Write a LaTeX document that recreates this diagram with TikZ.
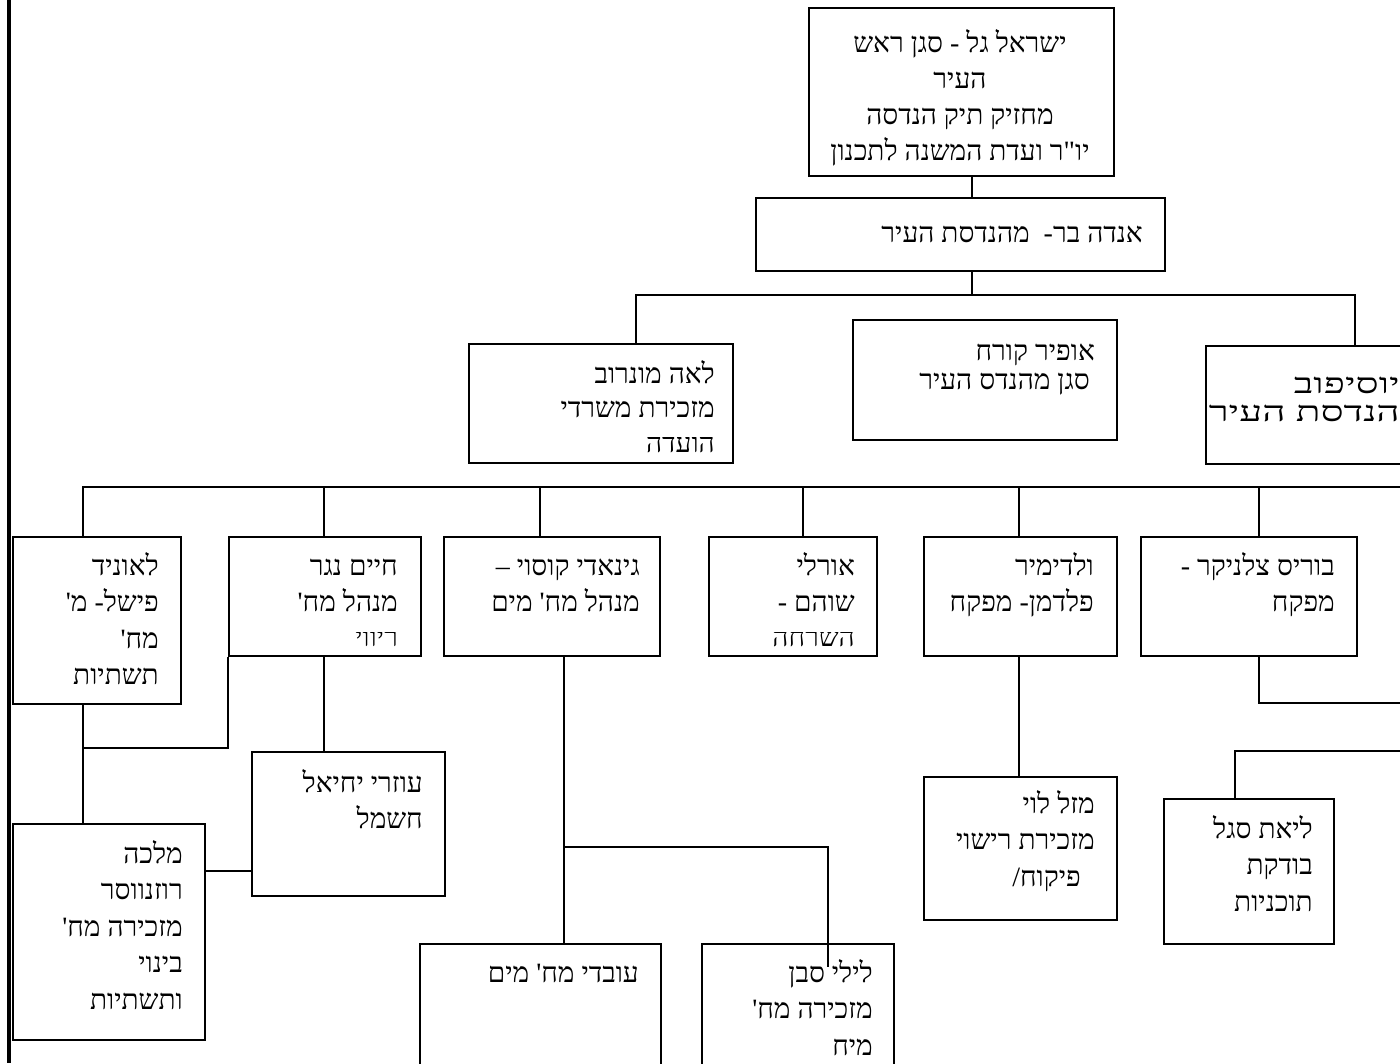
\documentclass[tikz,border=0pt]{standalone}
\usepackage{fontspec}
\newfontfamily\heb[Script=Hebrew,Ligatures=TeXOff]{Liberation Serif}
\TeXXeTstate=1
\newcommand\hl[1]{\beginR #1\endR}
\begin{document}
\begin{tikzpicture}[x=1pt,y=-1pt,
  box/.style={draw, line width=1.7pt, rectangle, anchor=north west, inner sep=0pt},
  txt/.style={font=\heb\fontsize{28}{36.5}\selectfont, inner sep=0pt, align=right, anchor=base east},
  link/.style={line width=1.7pt}]
\useasboundingbox (0,0) rectangle (1400,1063);
\clip (0,0) rectangle (1400,1063);
% left border
\draw[line width=4pt] (9,0) -- (9,1063);
% boxes
\node[box, minimum width=305pt, minimum height=168pt] (top) at (808,7) {};
\node[box, minimum width=409pt, minimum height=73pt] (anda) at (755,197) {};
\node[box, minimum width=264pt, minimum height=119pt] (lea) at (468,343) {};
\node[box, minimum width=264pt, minimum height=120pt] (ofir) at (852,319) {};
\node[box, minimum width=215pt, minimum height=118pt] (yos) at (1205,345) {};
\node[box, minimum width=168pt, minimum height=167pt] (leonid) at (12,536) {};
\node[box, minimum width=192pt, minimum height=119pt] (haim) at (228,536) {};
\node[box, minimum width=216pt, minimum height=119pt] (ginadi) at (443,536) {};
\node[box, minimum width=168pt, minimum height=119pt] (orly) at (708,536) {};
\node[box, minimum width=193pt, minimum height=119pt] (vlad) at (923,536) {};
\node[box, minimum width=216pt, minimum height=119pt] (boris) at (1140,536) {};
\node[box, minimum width=193pt, minimum height=144pt] (ozri) at (251,751) {};
\node[box, minimum width=192pt, minimum height=216pt] (malka) at (12,823) {};
\node[box, minimum width=241pt, minimum height=140pt] (ovdei) at (419,943) {};
\node[box, minimum width=192pt, minimum height=140pt] (lily) at (701,943) {};
\node[box, minimum width=193pt, minimum height=143pt] (mazal) at (923,776) {};
\node[box, minimum width=170pt, minimum height=145pt] (liat) at (1163,798) {};
% texts (anchor = baseline of the last line)
\node[txt, align=center, anchor=base, font=\heb\fontsize{28}{36}\selectfont] (topt) at (960,160)
  {\hl{ישראל גל - סגן ראש}\\ \hl{העיר}\\ \hl{מחזיק תיק הנדסה}\\ \hl{יו"ר ועדת המשנה לתכנון}};
\node[txt] (andat) at (1143,242) {\hl{אנדה בר-\ \ מהנדסת העיר}};
\node[txt, font=\heb\fontsize{28}{34}\selectfont] (leat) at (715,417) {\hl{לאה מונרוב}\\ \hl{מזכירת משרדי}};
\begin{scope}
  \clip (470,437) rectangle (730,460);
  \node[txt] (leat3) at (715,452) {\hl{הועדה}};
\end{scope}
\node[txt, font=\heb\fontsize{28}{29}\selectfont] (ofirt) at (1095,389) {\hl{אופיר קורח}\\ \hl{סגן מהנדס העיר}\hspace*{5pt}};
\node[txt] (yost1) at (1400,393) {\scalebox{1.45}[1]{\hl{יוסיפוב}}};
\node[txt] (yost2) at (1400,421) {\scalebox{1.45}[1]{\hl{הנדסת העיר}}};
\node[txt] (leonidt) at (159,684.5) {\hl{לאוניד}\\ \hl{פישל- מ'}\\ \hl{מח'}\\ \hl{תשתיות}};
\node[txt] (haimt) at (398,611.5) {\hl{חיים נגר}\\ \hl{מנהל מח'}};
\begin{scope}
  \clip (230,632) rectangle (418,653);
  \node[txt] (haimt3) at (398,646) {\hl{ריווי}};
\end{scope}
\node[txt] (ginadit) at (640,611.5) {\hl{גינאדי קוסוי –}\\ \hl{מנהל מח' מים}};
\node[txt] (orlyt) at (855,611.5) {\hl{אורלי}\\ \hl{שוהם -}};
\begin{scope}
  \clip (710,632) rectangle (874,653);
  \node[txt] (orlyt3) at (855,646) {\hl{השרחה}};
\end{scope}
\node[txt] (vladt) at (1094,611.5) {\hl{ולדימיר}\\ \hl{פלדמן- מפקח}};
\node[txt] (borist) at (1335,611.5) {\hl{בוריס צלניקר -}\\ \hl{מפקח}};
\node[txt] (ozrit) at (423,828.5) {\hl{עוזרי יחיאל}\\ \hl{חשמל}};
\node[txt] (malkat) at (183,1009) {\hl{מלכה}\\ \hl{רוזנווסר}\\ \hl{מזכירה מח'}\\ \hl{בינוי}\\ \hl{ותשתיות}};
\node[txt] (ovdeit) at (639,982) {\hl{עובדי מח' מים}};
\node[txt] (lilyt) at (873,1055) {\hl{לילי סבן}\\ \hl{מזכירה מח'}\\ \hl{מיח}};
\node[txt] (mazalt) at (1095,886) {\hl{מזל לוי}\\ \hl{מזכירת רישוי}\\ /\hl{פיקוח}\hspace*{14pt}};
\node[txt] (liatt) at (1313,911) {\hl{ליאת סגל}\\ \hl{בודקת}\\ \hl{תוכניות}};
% connectors
\draw[link] (972,0 |- top.south) -- (972,0 |- anda.north);
\draw[link] (972,0 |- anda.south) -- (972,295);
\draw[link] (636,0 |- lea.north) |- (1355,295) -- (1355,0 |- yos.north);
\coordinate (busR) at (1400,487);
\draw[link] (83,0 |- leonid.north) |- (busR);
\foreach \xx/\nn in {324/haim,540/ginadi,803/orly,1019/vlad,1259/boris}
  \draw[link] (\xx,487) -- (\xx,0 |- \nn.north);
\draw[link] (haim.south west) |- (83,748);
\draw[link] (83,0 |- leonid.south) -- (83,0 |- malka.north);
\draw[link] (324,0 |- haim.south) -- (324,0 |- ozri.north);
\draw[link] (malka.east |- 0,871) -- (ozri.west |- 0,871);
\draw[link] (564,0 |- ginadi.south) -- (564,0 |- ovdei.north);
\coordinate (lilyend) at (828,967);
\draw[link] (564,847) -| (lilyend);
\draw[link] (1019,0 |- vlad.south) -- (1019,0 |- mazal.north);
\coordinate (borisR) at (1400,703);
\draw[link] (1259,0 |- boris.south) |- (borisR);
\coordinate (liatR) at (1400,751);
\draw[link] (1235,0 |- liat.north) |- (liatR);
\end{tikzpicture}
\end{document}
